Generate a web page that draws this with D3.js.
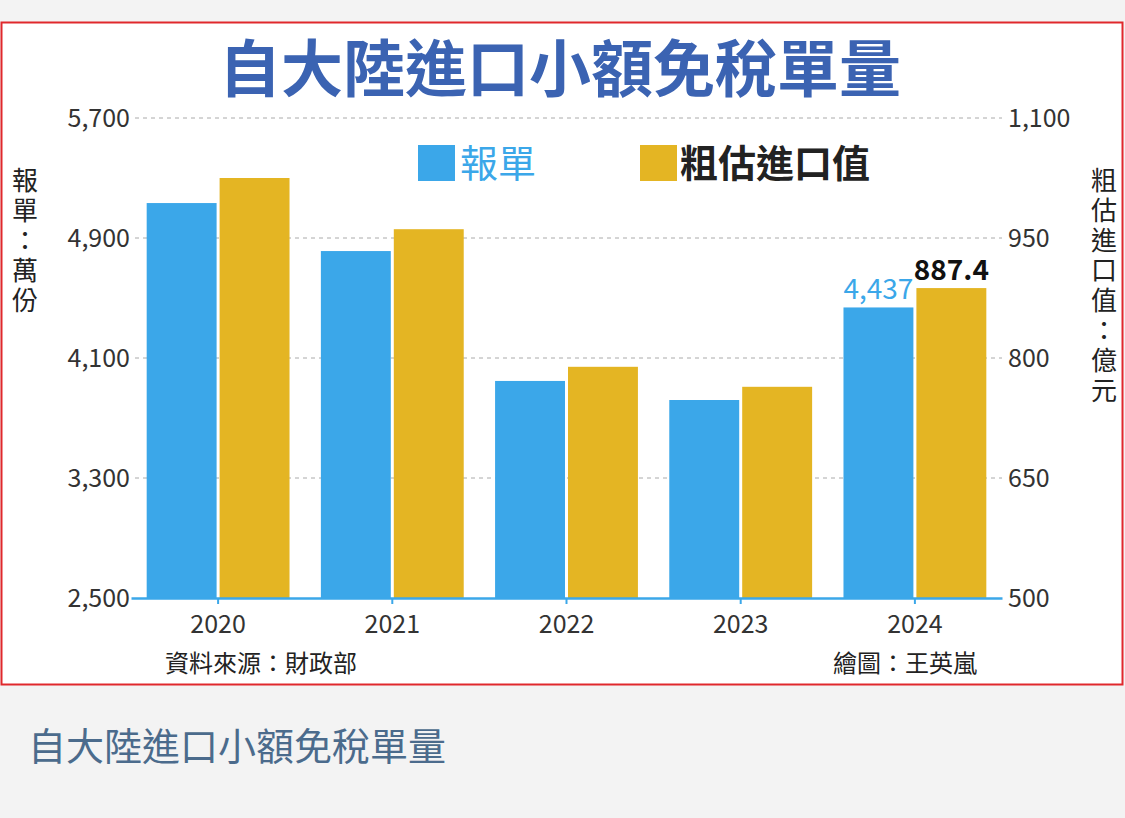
<!DOCTYPE html>
<html><head><meta charset="utf-8">
<script src="https://cdn.jsdelivr.net/npm/d3@7"></script>
<style>
body{margin:0;background:#f3f3f3;font-family:"Noto Sans CJK TC","Noto Sans",sans-serif;}
</style></head>
<body><svg id="chart" width="1125" height="818"></svg>
<script>
const years = ['2020', '2021', '2022', '2023', '2024']
const declarations = [5133, 4813, 3947, 3820, 4437]   // 報單：萬份
const importValue = [1025, 961, 789, 764, 887.4]      // 粗估進口值：億元
const leftTicks = [2500, 3300, 4100, 4900, 5700]
const rightTicks = [500, 650, 800, 950, 1100]

const svg = d3.select('#chart')
const blue = '#3ba7e9', gold = '#e4b523'
const plotTop = 118, plotBottom = 598

svg.append('rect').attr('x', 1.5).attr('y', 22.5).attr('width', 1121).attr('height', 662)
   .attr('fill', '#fff').attr('stroke', '#e0282c').attr('stroke-width', 2)

svg.append('text').attr('x', 560).attr('y', 92).attr('text-anchor', 'middle')
   .attr('font-size', 62).attr('font-weight', 'bold').attr('fill', '#3b63b2')
   .text('自大陸進口小額免稅單量')

const x = d3.scaleBand().domain(years).range([131, 1002]).paddingInner(0.18).paddingOuter(0.09)
const yL = d3.scaleLinear().domain([2500, 5700]).range([plotBottom, plotTop])
const yR = d3.scaleLinear().domain([500, 1100]).range([plotBottom, plotTop])
const bw = (x.bandwidth() - 3) / 2

// gridlines
svg.append('g').selectAll('line').data(leftTicks.slice(1)).enter().append('line')
   .attr('x1', 135).attr('x2', 1002).attr('y1', d => yL(d)).attr('y2', d => yL(d))
   .attr('stroke', '#aaa').attr('stroke-dasharray', '4,4')

svg.append('g').selectAll('rect').data(declarations).enter().append('rect')
   .attr('x', (d, i) => x(years[i])).attr('y', d => yL(d))
   .attr('width', bw).attr('height', d => plotBottom - yL(d)).attr('fill', blue)
svg.append('g').selectAll('rect').data(importValue).enter().append('rect')
   .attr('x', (d, i) => x(years[i]) + bw + 3).attr('y', d => yR(d))
   .attr('width', bw).attr('height', d => plotBottom - yR(d)).attr('fill', gold)

// axis labels
svg.append('g').selectAll('text').data(leftTicks).enter().append('text')
   .attr('x', 130).attr('y', d => yL(d) + 9).attr('text-anchor', 'end')
   .attr('font-size', 25).attr('fill', '#333').text(d3.format(','))
svg.append('g').selectAll('text').data(rightTicks).enter().append('text')
   .attr('x', 1008).attr('y', d => yR(d) + 9)
   .attr('font-size', 25).attr('fill', '#333').text(d3.format(','))

// bottom axis
const xAxis = d3.axisBottom(x).tickSize(6).tickSizeOuter(0)
const gx = svg.append('g').attr('transform', `translate(0,${plotBottom})`).call(xAxis)
gx.select('.domain').attr('stroke', blue).attr('stroke-width', 2.5)
gx.selectAll('.tick line').attr('stroke', blue).attr('stroke-width', 2)
gx.selectAll('.tick text').attr('font-size', 25).attr('fill', '#333').attr('dy', '1.05em')
   .attr('font-family', '"Noto Sans CJK TC",sans-serif')

// legend
svg.append('rect').attr('x', 418).attr('y', 145).attr('width', 37).attr('height', 36).attr('fill', blue)
svg.append('text').attr('x', 460).attr('y', 177).attr('font-size', 38).attr('fill', blue).text('報單')
svg.append('rect').attr('x', 640).attr('y', 145).attr('width', 37).attr('height', 36).attr('fill', gold)
svg.append('text').attr('x', 680).attr('y', 177).attr('font-size', 38).attr('font-weight', 'bold').attr('fill', '#222').text('粗估進口值')

// axis titles
const vtext = (xp, y0, s) => svg.append('g').selectAll('text').data(s.split('')).enter().append('text')
   .attr('x', xp).attr('y', (d, i) => y0 + i * 30).attr('text-anchor', 'middle')
   .attr('font-size', 26).attr('fill', '#222').text(d => d)
vtext(25, 190, '報單：萬份')
vtext(1104, 190, '粗估進口值：億元')

// annotations
svg.append('text').attr('x', x('2024') + bw / 2).attr('y', yL(4437) - 8).attr('text-anchor', 'middle')
   .attr('font-size', 28).attr('fill', blue).text('4,437')
svg.append('text').attr('x', x('2024') + bw * 1.5 + 3).attr('y', yR(887.4) - 8).attr('text-anchor', 'middle')
   .attr('font-size', 28).attr('font-weight', 'bold').attr('fill', '#111').text('887.4')

svg.append('text').attr('x', 165).attr('y', 672).attr('font-size', 24).attr('fill', '#222').text('資料來源：財政部')
svg.append('text').attr('x', 977).attr('y', 672).attr('text-anchor', 'end').attr('font-size', 24).attr('fill', '#222').text('繪圖：王英嵐')

svg.append('text').attr('x', 28).attr('y', 760).attr('font-size', 38).attr('fill', '#4b6b8c').text('自大陸進口小額免稅單量')
</script></body></html>
